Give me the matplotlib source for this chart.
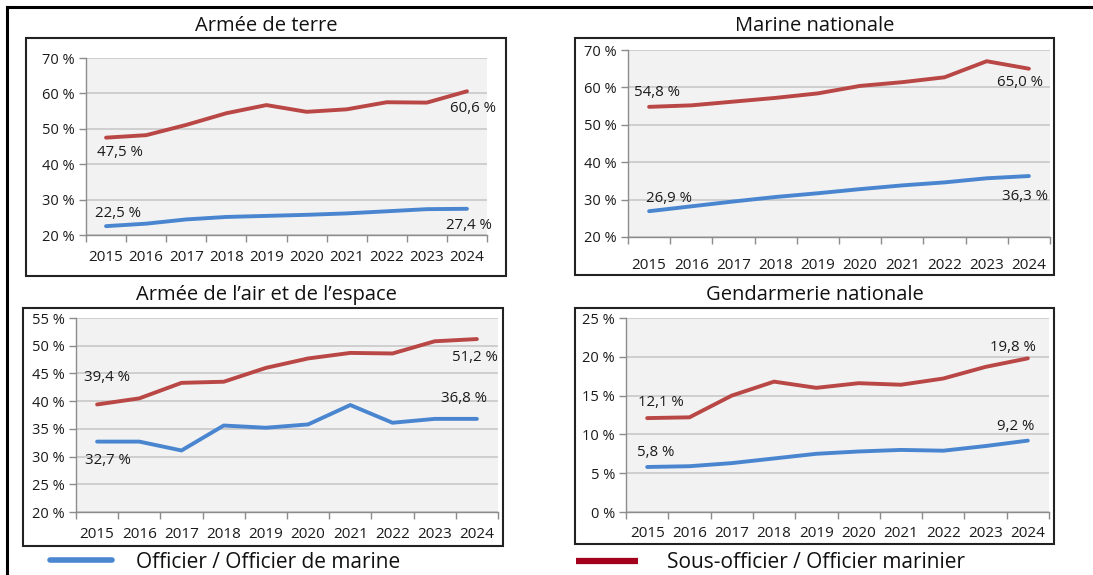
import matplotlib
matplotlib.use("Agg")
import matplotlib.pyplot as plt
from matplotlib.patches import Rectangle
from matplotlib.lines import Line2D

plt.rcParams['font.family'] = ['Open Sans', 'DejaVu Sans']

years = ["2015", "2016", "2017", "2018", "2019", "2020", "2021", "2022", "2023", "2024"]

terre_officier = [22.5, 23.2, 24.4, 25.1, 25.4, 25.7, 26.1, 26.7, 27.3, 27.4]
terre_sousoff = [47.5, 48.2, 51.1, 54.4, 56.7, 54.8, 55.5, 57.5, 57.4, 60.6]

marine_officier = [26.9, 28.2, 29.5, 30.7, 31.7, 32.8, 33.8, 34.6, 35.7, 36.3]
marine_sousoff = [54.8, 55.2, 56.2, 57.2, 58.4, 60.4, 61.4, 62.7, 67.0, 65.0]

air_officier = [32.7, 32.7, 31.1, 35.6, 35.2, 35.8, 39.3, 36.1, 36.8, 36.8]
air_sousoff = [39.4, 40.5, 43.3, 43.5, 46.0, 47.7, 48.7, 48.6, 50.8, 51.2]

gend_officier = [5.8, 5.9, 6.3, 6.9, 7.5, 7.8, 8.0, 7.9, 8.5, 9.2]
gend_sousoff = [12.1, 12.2, 15.0, 16.8, 16.0, 16.6, 16.4, 17.2, 18.7, 19.8]

titles = ["Armée de terre", "Marine nationale",
          "Armée de l\u2019air et de l\u2019espace", "Gendarmerie nationale"]
legend_labels = ["Officier / Officier de marine", "Sous-officier / Officier marinier"]

BLUE = "#4A86D0"
RED = "#B94745"
LEG_RED = "#A3001E"

W, H = 1093, 575
fig = plt.figure(figsize=(W / 100, H / 100), dpi=100)


def px_axes(x0, y0, x1, y1):
    return fig.add_axes([x0 / W, 1 - y1 / H, (x1 - x0) / W, (y1 - y0) / H])


def box(x0, y0, x1, y1):
    fig.patches.append(Rectangle((x0 / W, 1 - y1 / H), (x1 - x0) / W, (y1 - y0) / H,
                                 transform=fig.transFigure, fill=False,
                                 edgecolor="#222222", linewidth=1.5, zorder=0))


panels = [
    dict(plot=(86, 58, 487, 235), box=(26, 38, 506, 276), ylim=(20, 70), step=10,
         off=terre_officier, sof=terre_sousoff, title_xy=(266, 26), xpad=11,
         labels=[("sof", 0, 14, -15), ("sof", 9, 6, -17), ("off", 0, 12, 13), ("off", 9, 2, -17)]),
    dict(plot=(628, 50, 1050, 237), box=(575, 38, 1054, 275), ylim=(20, 70), step=10,
         off=marine_officier, sof=marine_sousoff, title_xy=(815, 26), xpad=15,
         labels=[("sof", 0, 8, 14), ("sof", 9, -9, -14), ("off", 0, 20, 13), ("off", 9, -4, -20)]),
    dict(plot=(76, 318, 498, 512), box=(23, 308, 503, 546), ylim=(20, 55), step=5,
         off=air_officier, sof=air_sousoff, title_xy=(266, 295), xpad=11,
         labels=[("sof", 0, 10, 27), ("sof", 9, -2, -18), ("off", 0, 11, -19), ("off", 9, -13, 20)]),
    dict(plot=(626, 318, 1049, 512), box=(575, 308, 1054, 544), ylim=(0, 25), step=5,
         off=gend_officier, sof=gend_sousoff, title_xy=(815, 295), xpad=10,
         labels=[("sof", 0, 14, 16), ("sof", 9, -15, 11), ("off", 0, 9, 14), ("off", 9, -12, 14)]),
]

for p, title in zip(panels, titles):
    box(*p["box"])
    ax = px_axes(*p["plot"])
    ax.set_facecolor("#F2F2F2")
    x = list(range(len(years)))
    ax.plot(x, p["off"], color=BLUE, lw=2.8, solid_capstyle="round", zorder=3)
    ax.plot(x, p["sof"], color=RED, lw=2.8, solid_capstyle="round", zorder=3)
    ax.set_xlim(-0.5, len(years) - 0.5)
    lo, hi = p["ylim"]
    ax.set_ylim(lo, hi)
    yt = list(range(lo, hi + 1, p["step"]))
    ax.set_yticks(yt)
    ax.set_yticklabels([f"{v} %" for v in yt], fontsize=10.5, color="#1a1a1a")
    ax.set_xticks([i - 0.5 for i in range(len(years) + 1)])
    ax.set_xticklabels([])
    ax.set_xticks(x, minor=True)
    ax.set_xticklabels(years, minor=True, fontsize=11, color="#1a1a1a")
    ax.tick_params(axis="x", which="major", length=5, color="#8C8C8C", width=1)
    ax.tick_params(axis="x", which="minor", length=0, pad=p["xpad"])
    ax.tick_params(axis="y", length=5, color="#8C8C8C", width=1, pad=3)
    ax.grid(axis="y", color="#C8C8C8", lw=1.2)
    ax.set_axisbelow(True)
    for s in ("top", "right"):
        ax.spines[s].set_visible(False)
    for s in ("left", "bottom"):
        ax.spines[s].set_color("#8C8C8C")
        ax.spines[s].set_linewidth(1)
    for ser, i, dx, dy in p["labels"]:
        vals = p["off"] if ser == "off" else p["sof"]
        txt = f"{vals[i]:.1f}".replace(".", ",") + " %"
        ax.annotate(txt, (i, vals[i]), xytext=(dx, dy), textcoords="offset pixels",
                    ha="center", va="center", fontsize=10.8, color="#1a1a1a", zorder=4)
    tx, ty = p["title_xy"]
    fig.text(tx / W, 1 - ty / H, title, ha="center", va="center", fontsize=14.5, color="#111111")

# outer frame lines
fig.lines.append(Line2D([7 / W, 1], [1 - 7 / H, 1 - 7 / H], transform=fig.transFigure,
                        color="black", lw=2.2))
fig.lines.append(Line2D([7 / W, 7 / W], [1 - 7 / H, 0], transform=fig.transFigure,
                        color="black", lw=2.2))

# legend
fig.lines.append(Line2D([50 / W, 112 / W], [1 - 560 / H, 1 - 560 / H], transform=fig.transFigure,
                        color=BLUE, lw=4, solid_capstyle="round"))
fig.text(268 / W, 1 - 563 / H, legend_labels[0], ha="center", va="center", fontsize=15, color="#111111")
fig.lines.append(Line2D([576 / W, 638 / W], [1 - 561 / H, 1 - 561 / H], transform=fig.transFigure,
                        color=LEG_RED, lw=4.5, solid_capstyle="butt"))
fig.text(816 / W, 1 - 563 / H, legend_labels[1], ha="center", va="center", fontsize=15, color="#111111")

fig.savefig("out.png", dpi=100)
